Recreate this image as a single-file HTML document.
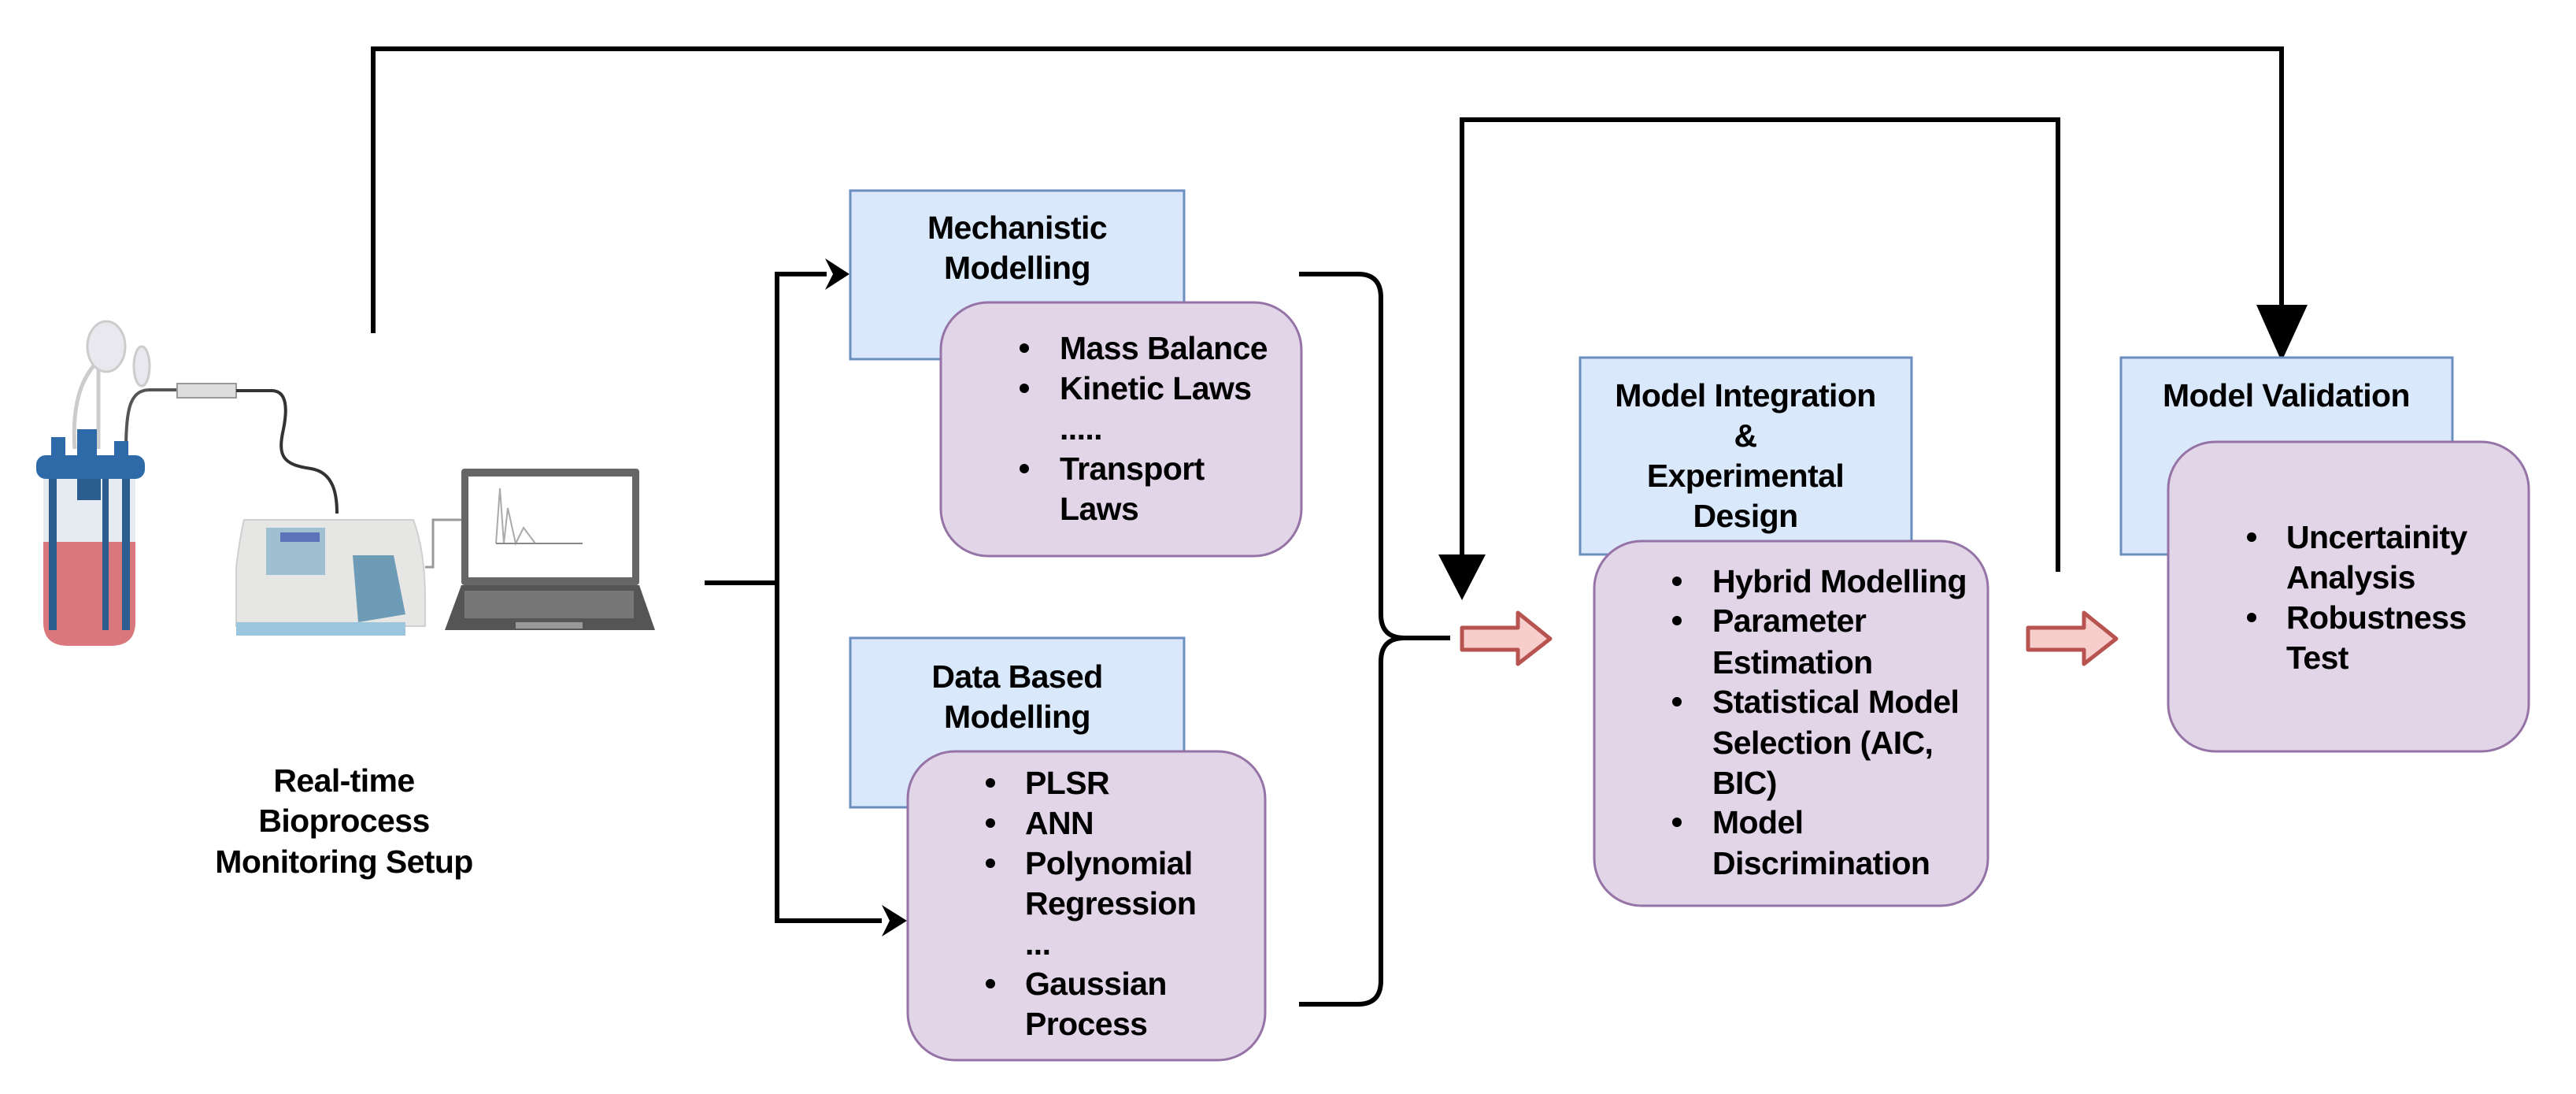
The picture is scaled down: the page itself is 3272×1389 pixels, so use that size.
<!DOCTYPE html>
<html><head><meta charset="utf-8"><style>
html,body{margin:0;padding:0;background:#fff;}
svg{display:block;}
text{font-family:"Liberation Sans",Arial,sans-serif;font-weight:bold;font-size:41px;letter-spacing:-0.6px;fill:#000;}
</style></head><body>
<svg width="3272" height="1389" viewBox="0 0 3272 1389" xmlns="http://www.w3.org/2000/svg">
<!-- equipment -->
<g>
 <path d="M95 570 C90 500 110 460 150 440" stroke="#ccc" stroke-width="5" fill="none"/>
 <path d="M125 570 L125 460 L140 430" stroke="#ccc" stroke-width="5" fill="none"/>
 <path d="M160 570 C160 520 165 495 190 495 L225 495" stroke="#555" stroke-width="4" fill="none"/>
 <ellipse cx="135" cy="440" rx="24" ry="32" fill="#e8e8ee" stroke="#ccc" stroke-width="3"/>
 <ellipse cx="180" cy="465" rx="10" ry="25" fill="#e8e8ee" stroke="#ccc" stroke-width="3"/>
 <rect x="225" y="487" width="75" height="18" fill="#ddd" stroke="#999" stroke-width="2"/>
 <path d="M300 496 L345 496 C365 496 365 520 360 545 C352 580 360 590 395 595 C425 600 428 630 428 652" stroke="#333" stroke-width="4" fill="none"/>
 <rect x="55" y="600" width="117" height="90" fill="#dfe6ec" opacity="0.8"/>
 <path d="M55 688 L172 688 L172 790 Q172 820 140 820 L87 820 Q55 820 55 790 Z" fill="#d9777c"/>
 <rect x="62" y="600" width="10" height="200" fill="#2b5d8f"/>
 <rect x="155" y="600" width="10" height="200" fill="#2b5d8f"/>
 <rect x="130" y="600" width="8" height="200" fill="#2b5d8f"/>
 <rect x="98" y="590" width="30" height="45" fill="#2b5d8f"/>
 <rect x="46" y="578" width="138" height="30" rx="12" fill="#2f6aa8"/>
 <rect x="65" y="555" width="18" height="28" fill="#2f6aa8"/><rect x="98" y="545" width="25" height="38" fill="#2f6aa8"/><rect x="145" y="560" width="18" height="25" fill="#2f6aa8"/>
 <path d="M310 660 L525 660 Q540 700 540 760 L540 795 L300 795 L300 720 Q305 680 310 660 Z" fill="#e6e6e4" stroke="#d0d0d0" stroke-width="2"/>
 <rect x="300" y="790" width="215" height="17" fill="#9cc6de"/>
 <rect x="338" y="670" width="75" height="60" fill="#9fc0d0"/>
 <rect x="356" y="676" width="50" height="12" fill="#5b73b8"/>
 <path d="M448 705 L500 705 L515 780 L455 790 Z" fill="#6e9bb5"/>
 <path d="M540 720 L550 720 L550 660 L588 660" stroke="#999" stroke-width="3" fill="none"/>
 <rect x="586" y="595" width="226" height="148" rx="4" fill="#666"/>
 <rect x="595" y="605" width="208" height="128" fill="#fff"/>
 <path d="M630 690 L635 620 L640 690 L645 645 L655 690 L665 670 L680 690 L720 690" stroke="#aaa" stroke-width="2" fill="none"/>
 <line x1="630" y1="690" x2="740" y2="690" stroke="#888" stroke-width="2"/>
 <path d="M586 743 L812 743 L832 800 L565 800 Z" fill="#555"/>
 <rect x="590" y="750" width="215" height="35" fill="#777"/>
 <rect x="655" y="790" width="85" height="8" fill="#999"/>
</g>
<text x="437" y="1005" text-anchor="middle">Real-time</text>
<text x="437" y="1056" text-anchor="middle">Bioprocess</text>
<text x="437" y="1108" text-anchor="middle">Monitoring Setup</text>

<g stroke="#000" stroke-width="6" fill="none">
 <path d="M474 423 L474 62 L2898 62 L2898 400"/>
 <path d="M2614 726 L2614 152 L1857 152 L1857 710"/>
 <path d="M895 740 L987 740"/>
 <path d="M1050 348 L987 348 L987 1169 L1120 1169"/>
 <path d="M1650 348 L1725 348 Q1754 348 1754 378 L1754 780 Q1754 810 1784 810 L1842 810"/>
 <path d="M1650 1275 L1725 1275 Q1754 1275 1754 1245 L1754 840 Q1754 810 1784 810"/>
</g>
<polygon points="1079,348 1048,328 1058,348 1048,368" fill="#000"/>
<polygon points="1152,1169 1120,1149 1130,1169 1120,1189" fill="#000"/>
<polygon points="2866,387 2931,387 2898,459" fill="#000"/>
<polygon points="1827,704 1887,704 1857,762" fill="#000"/>

<path d="M1857 797 L1928 797 L1928 778 L1969 811 L1928 843 L1928 825 L1857 825 Z" fill="#f8cecc" stroke="#b85450" stroke-width="5" stroke-linejoin="round"/>
<path d="M2576 797 L2647 797 L2647 778 L2688 811 L2647 843 L2647 825 L2576 825 Z" fill="#f8cecc" stroke="#b85450" stroke-width="5" stroke-linejoin="round"/>

<g stroke="#6c8ebf" stroke-width="3" fill="#dae8fc">
 <rect x="1080" y="242" width="424" height="214"/>
 <rect x="1080" y="810" width="424" height="215"/>
 <rect x="2007" y="454" width="421" height="250"/>
 <rect x="2694" y="454" width="421" height="250"/>
</g>
<g stroke="#9673a6" stroke-width="3" fill="#e1d5e7">
 <rect x="1195" y="384" width="458" height="322" rx="60"/>
 <rect x="1153" y="954" width="454" height="392" rx="60"/>
 <rect x="2025" y="687" width="500" height="463" rx="60"/>
 <rect x="2754" y="561" width="458" height="393" rx="60"/>
</g>

<text x="1292" y="303" text-anchor="middle">Mechanistic</text>
<text x="1292" y="354" text-anchor="middle">Modelling</text>
<text x="1292" y="873" text-anchor="middle">Data Based</text>
<text x="1292" y="924" text-anchor="middle">Modelling</text>
<text x="2217" y="516" text-anchor="middle">Model Integration</text>
<text x="2217" y="567" text-anchor="middle">&amp;</text>
<text x="2217" y="618" text-anchor="middle">Experimental</text>
<text x="2217" y="669" text-anchor="middle">Design</text>
<text x="2904" y="516" text-anchor="middle">Model Validation</text>

<g fill="#000">
 <circle cx="1301" cy="442" r="6"/><circle cx="1301" cy="493" r="6"/><circle cx="1301" cy="595" r="6"/>
 <circle cx="1258" cy="994" r="6"/><circle cx="1258" cy="1045" r="6"/><circle cx="1258" cy="1096" r="6"/><circle cx="1258" cy="1249" r="6"/>
 <circle cx="2130" cy="738" r="6"/><circle cx="2130" cy="788" r="6"/><circle cx="2130" cy="891" r="6"/><circle cx="2130" cy="1044" r="6"/>
 <circle cx="2860" cy="682" r="6"/><circle cx="2860" cy="784" r="6"/>
</g>
<text x="1346" y="456">Mass Balance</text>
<text x="1346" y="507">Kinetic Laws</text>
<text x="1346" y="558">.....</text>
<text x="1346" y="609">Transport</text>
<text x="1346" y="660">Laws</text>

<text x="1302" y="1008">PLSR</text>
<text x="1302" y="1059">ANN</text>
<text x="1302" y="1110">Polynomial</text>
<text x="1302" y="1161">Regression</text>
<text x="1302" y="1212">...</text>
<text x="1302" y="1263">Gaussian</text>
<text x="1302" y="1314">Process</text>

<text x="2175" y="752">Hybrid Modelling</text>
<text x="2175" y="802">Parameter</text>
<text x="2175" y="855">Estimation</text>
<text x="2175" y="905">Statistical Model</text>
<text x="2175" y="957">Selection (AIC,</text>
<text x="2175" y="1008">BIC)</text>
<text x="2175" y="1058">Model</text>
<text x="2175" y="1110">Discrimination</text>

<text x="2904" y="696">Uncertainity</text>
<text x="2904" y="747">Analysis</text>
<text x="2904" y="798">Robustness</text>
<text x="2904" y="849">Test</text>
</svg>
</body></html>
